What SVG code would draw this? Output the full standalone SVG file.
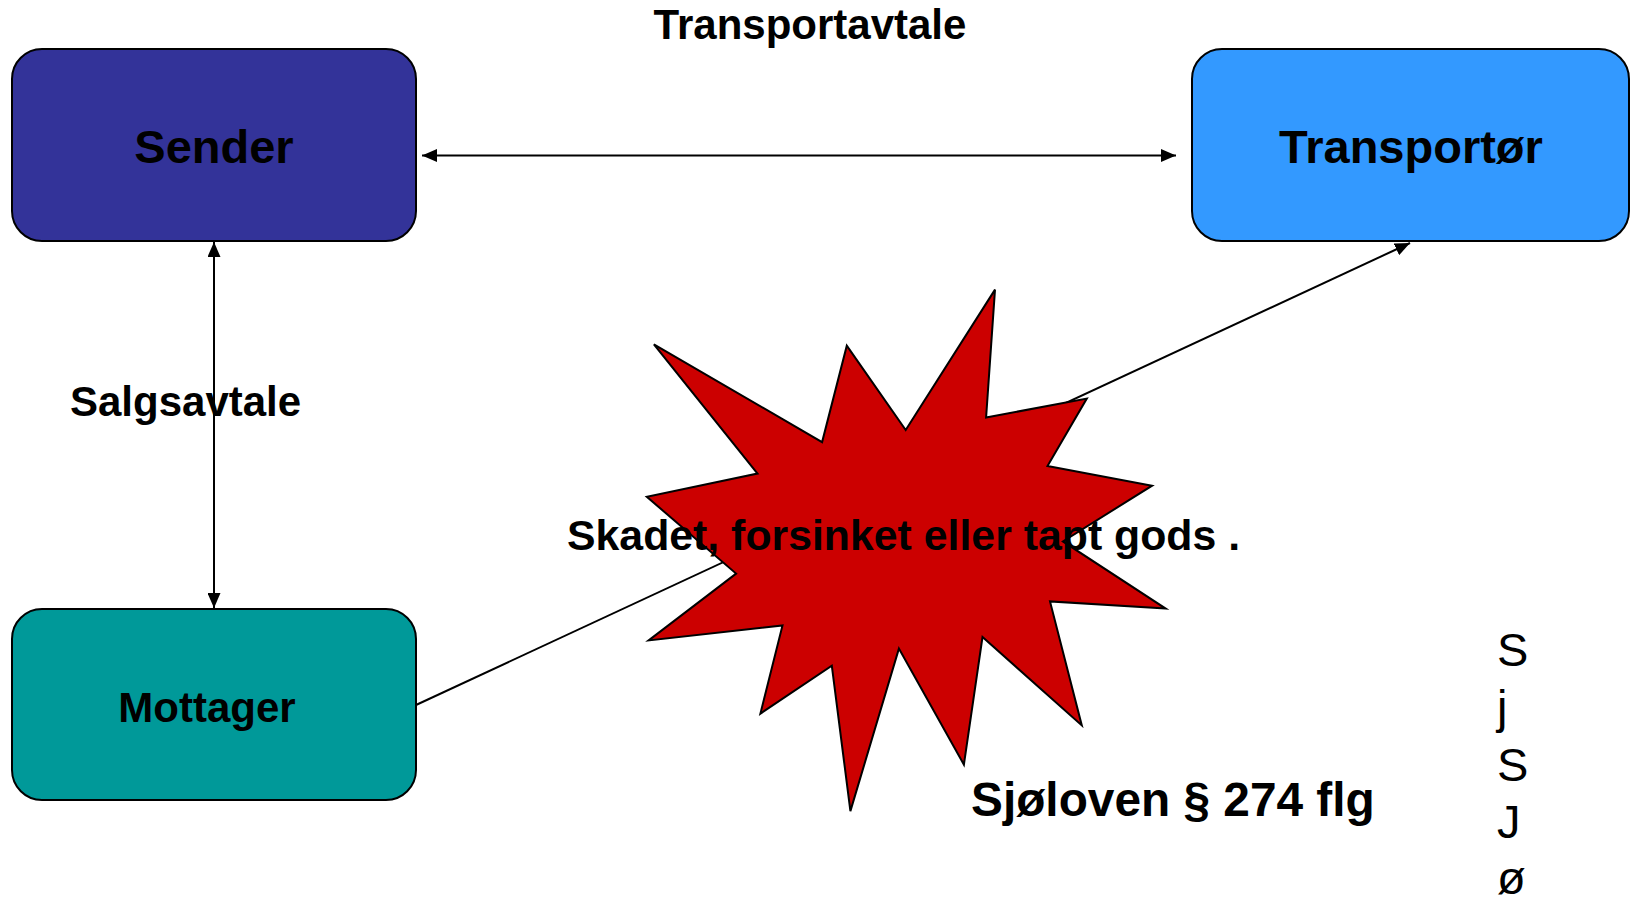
<svg xmlns="http://www.w3.org/2000/svg" width="1632" height="900" viewBox="0 0 1632 900">
<defs>
<style>
.box{stroke:#000;stroke-width:2}
.lbl{font-family:"Liberation Sans",Arial,sans-serif;font-weight:bold;fill:#000}
.con{stroke:#000;stroke-width:2;fill:none}
.side{font-family:"Liberation Sans",Arial,sans-serif;font-size:47px;fill:#000}
</style>
<marker id="ah" viewBox="0 0 15 13" refX="15" refY="6.5" markerWidth="15" markerHeight="13" markerUnits="userSpaceOnUse" orient="auto-start-reverse">
<path d="M0,0 L15,6.5 L0,13 Z" fill="#000"/>
</marker>
</defs>
<rect width="1632" height="900" fill="#fff"/>
<g id="connectors">
<line class="con" x1="422" y1="155.5" x2="1176" y2="155.5" marker-start="url(#ah)" marker-end="url(#ah)"/>
<line class="con" x1="214" y1="242" x2="214" y2="608" stroke-width="1.6" marker-start="url(#ah)" marker-end="url(#ah)"/>
<line class="con" x1="416" y1="705" x2="1410" y2="243" marker-end="url(#ah)"/>
</g>
<g id="sender">
<rect class="box" x="12" y="49" width="404" height="192" rx="30" fill="#333399"/>
<text class="lbl" x="214" y="163" font-size="47" text-anchor="middle">Sender</text>
</g>
<g id="transportor">
<rect class="box" x="1192" y="49" width="437" height="192" rx="30" fill="#3399FF"/>
<text class="lbl" x="1411" y="163" font-size="47" text-anchor="middle">Transportør</text>
</g>
<g id="mottager">
<rect class="box" x="12" y="609" width="404" height="191" rx="30" fill="#009999"/>
<text class="lbl" x="207" y="722" font-size="42" text-anchor="middle">Mottager</text>
</g>
<g id="star">
<polygon points="653.9,344.3 822.1,442.1 846.8,345.7 905.7,430 995,289.6 986.1,417.5 1086.8,398.6 1047.5,466.1 1152.1,485.7 1062.9,541.4 1165.7,608.6 1050,601.4 1081.8,725.4 982.5,637.1 963.9,764.6 898.9,648.6 850.4,811.1 831.8,665.7 760.4,713.6 782.5,625.4 648.6,640.4 736.1,573.6 646.8,496.8 757.5,473.6" fill="#CC0000" stroke="#000" stroke-width="2" stroke-linejoin="miter"/>
</g>
<g id="labels">
<text class="lbl" x="810" y="39" font-size="42" text-anchor="middle">Transportavtale</text>
<text class="lbl" x="70" y="416" font-size="42">Salgsavtale</text>
<text class="lbl" x="567" y="550" font-size="42.8">Skadet, forsinket eller tapt gods .</text>
<text class="lbl" x="971" y="816" font-size="47.8">Sjøloven § 274 flg</text>
<text class="side" x="1497" y="666">S</text>
<text class="side" x="1497" y="723">j</text>
<text class="side" x="1497" y="781">S</text>
<text class="side" x="1497" y="838">J</text>
<text class="side" x="1497" y="894">ø</text>
</g>
</svg>
